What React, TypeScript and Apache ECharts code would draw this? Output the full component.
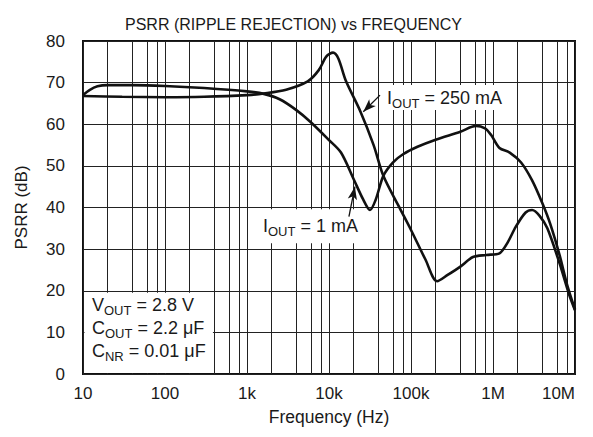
import React, { useEffect, useRef } from "react";
import * as echarts from "echarts";

const FONT = "Liberation Sans";

const freqA = [10, 12, 15, 20, 40, 100, 300, 1000, 1600, 2500, 4000, 6000, 10000, 14000, 20000, 26000, 31600, 37000, 46000, 60000, 80000, 120000, 200000, 400000, 620000, 800000, 950000, 1200000, 1600000, 2200000, 3000000, 4000000, 5000000, 6500000, 8000000, 10000000];
const psrrA = [67.0, 68.2, 69.1, 69.4, 69.4, 69.2, 68.7, 67.9, 67.3, 66.0, 63.4, 60.5, 56.2, 53.2, 46.8, 42.0, 39.4, 41.8, 47.6, 50.8, 52.8, 54.6, 56.3, 58.2, 59.6, 59.0, 57.4, 54.3, 53.2, 50.8, 46.5, 41.0, 36.0, 28.5, 21.5, 15.5];

const freqB = [10, 30, 100, 300, 1000, 1600, 3000, 5500, 7500, 9300, 11200, 13000, 16000, 24000, 35000, 46000, 70000, 100000, 150000, 208000, 280000, 400000, 570000, 830000, 1200000, 1500000, 1900000, 2500000, 3000000, 3700000, 4600000, 6500000, 8500000, 10000000];
const psrrB = [66.8, 66.6, 66.5, 66.6, 67.0, 67.4, 68.3, 70.3, 73.0, 76.3, 77.2, 75.8, 70.5, 63.2, 55.0, 47.6, 40.5, 34.6, 27.5, 22.3, 23.8, 25.8, 28.1, 28.6, 29.0, 31.5, 35.4, 38.8, 39.4, 38.0, 35.0, 26.5, 19.0, 15.3];

const minorGridFreqs = [20, 40, 60, 80, 200, 400, 600, 800, 2000, 4000, 6000, 8000, 20000, 40000, 60000, 80000, 200000, 400000, 600000, 800000, 2000000, 4000000, 6000000, 8000000];
const xTickLabels = ["10", "100", "1k", "10k", "100k", "1M", "10M"];

// arrows: [tailFreq, tailDb, tipFreq, tipDb]
const arrow250 = [41900, 67.0, 26200, 63.0];
const arrow1 = [17500, 37.8, 20700, 45.0];

// white label boxes: [freqLeft, dbBottom, freqRight, dbTop]
const boxCond = [10.43, 0.24, 384, 19.5];
const box1mA = [1216, 31.4, 25200, 39.6];
const box250 = [45600, 63.4, 1360000, 69.4];

const condText = "{m|V}{s|OUT}{m| = 2.8 V}\n{m|C}{s|OUT}{m| = 2.2 μF}\n{m|C}{s|NR}{m| = 0.01 μF}";
const label1mA = "{m|I}{s|OUT}{m| = 1 mA}";
const label250 = "{m|I}{s|OUT}{m| = 250 mA}";

const zip = (xs: number[], ys: number[]) => xs.map((x, i) => [x, ys[i]]);

const rich = {
  m: { fontSize: 18, lineHeight: 23, fontFamily: FONT, color: "#1a1a1a" },
  s: { fontSize: 13, fontFamily: FONT, color: "#1a1a1a", verticalAlign: "bottom" },
};

const boxItem = (b: number[], text: string, position: string, offset: number[]) => [
  {
    coord: [b[0], b[1]],
    label: { show: true, position, distance: 0, offset, formatter: text, rich, color: "#1a1a1a" },
  },
  { coord: [b[2], b[3]] },
];

export default function App() {
  const ref = useRef<HTMLDivElement>(null);
  useEffect(() => {
    const chart = echarts.init(ref.current!, undefined, { renderer: "svg" });
    const curveStyle = { color: "#111", width: 2.6 };
    const tickFont = { fontSize: 17, color: "#1a1a1a", fontFamily: FONT };
    chart.setOption({
      animation: false,
      backgroundColor: "#fff",
      title: {
        text: "PSRR (RIPPLE REJECTION) vs FREQUENCY",
        left: 120,
        top: 11,
        textStyle: { fontSize: 16, fontWeight: "normal", color: "#1a1a1a", fontFamily: FONT },
      },
      grid: {
        left: 83,
        right: 18,
        top: 41,
        bottom: 63,
        show: true,
        borderColor: "#111",
        borderWidth: 2,
        backgroundColor: "transparent",
      },
      xAxis: {
        type: "log",
        logBase: 10,
        min: 10,
        max: 10000000,
        splitNumber: 6,
        name: "Frequency (Hz)",
        nameLocation: "middle",
        nameGap: 34,
        nameTextStyle: { fontSize: 17.5, color: "#1a1a1a", fontFamily: FONT },
        axisLine: { show: false },
        axisTick: { show: false },
        axisLabel: {
          ...tickFont,
          margin: 11,
          alignMaxLabel: "right",
          formatter: (v: number) => xTickLabels[Math.round(Math.log10(v)) - 1] ?? "",
        },
        splitLine: { show: true, lineStyle: { color: "#222", width: 1 } },
      },
      yAxis: {
        type: "value",
        min: 0,
        max: 80,
        interval: 10,
        name: "PSRR (dB)",
        nameLocation: "middle",
        nameGap: 53,
        nameTextStyle: { fontSize: 17, color: "#1a1a1a", fontFamily: FONT },
        axisLine: { show: false },
        axisTick: { show: false },
        axisLabel: { ...tickFont, margin: 18 },
        splitLine: { show: true, lineStyle: { color: "#222", width: 1 } },
      },
      series: [
        {
          type: "line",
          z: 1,
          data: [[10, 0]],
          symbol: "none",
          lineStyle: { width: 0, opacity: 0 },
          silent: true,
          markLine: {
            z: 1,
            silent: true,
            symbol: "none",
            label: { show: false },
            lineStyle: { color: "#222", width: 1, type: "solid" },
            data: minorGridFreqs.map((f) => ({ xAxis: f })),
          },
        },
        {
          type: "line",
          z: 5,
          data: [[10, 0]],
          symbol: "none",
          lineStyle: { width: 0, opacity: 0 },
          silent: true,
          markArea: {
            z: 4,
            silent: true,
            itemStyle: { color: "#fff", opacity: 1, borderWidth: 0 },
            emphasis: { disabled: true },
            data: [
              boxItem(boxCond, condText, "insideTopLeft", [7.5, 1]),
              boxItem(box1mA, label1mA, "insideLeft", [9, 0]),
              boxItem(box250, label250, "insideLeft", [4, 0.5]),
            ],
          },
        },
        {
          name: "IOUT = 1 mA",
          type: "line",
          z: 8,
          data: zip(freqA, psrrA),
          smooth: 0.3,
          symbol: "none",
          lineStyle: curveStyle,
        },
        {
          name: "IOUT = 250 mA",
          type: "line",
          z: 8,
          data: zip(freqB, psrrB),
          smooth: 0.3,
          symbol: "none",
          lineStyle: curveStyle,
        },
        {
          type: "line",
          z: 10,
          data: [[10, 0]],
          symbol: "none",
          lineStyle: { width: 0, opacity: 0 },
          silent: true,
          markLine: {
            z: 10,
            silent: true,
            symbol: ["none", "arrow"],
            symbolSize: [7, 13],
            label: { show: false },
            lineStyle: { color: "#111", width: 1.3, type: "solid" },
            itemStyle: { color: "#111" },
            data: [
              [{ coord: [arrow250[0], arrow250[1]] }, { coord: [arrow250[2], arrow250[3]] }],
              [{ coord: [arrow1[0], arrow1[1]] }, { coord: [arrow1[2], arrow1[3]] }],
            ],
          },
        },
      ],
    });
    return () => chart.dispose();
  }, []);
  return (
    <div
      ref={ref}
      style={{ position: "fixed", left: 0, top: 0, width: 593, height: 437, background: "#fff" }}
    />
  );
}
